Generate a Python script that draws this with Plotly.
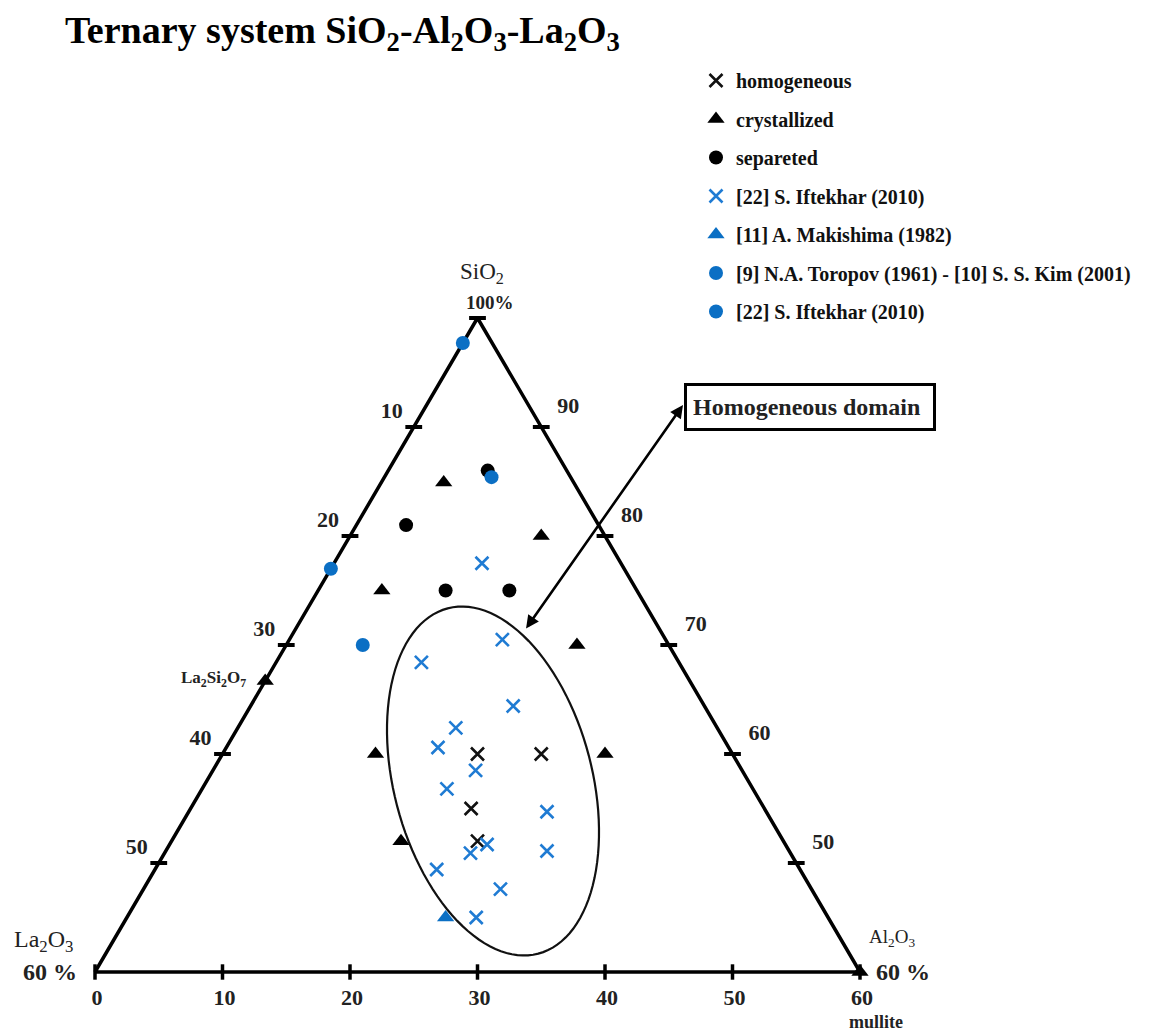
import numpy as np
import plotly.graph_objects as go

# ---------------- data (mol %: SiO2, Al2O3 ; La2O3 = 100 - SiO2 - Al2O3) ----------------
hom_sio2 = [60, 60, 55, 52]
hom_al2o3 = [20, 25, 22, 24]

cry_sio2 = [84.9, 80, 75, 70, 60, 60, 52, 66.7, 40]
cry_al2o3 = [4.9, 15, 5, 22.8, 12, 30, 18, 0, 60]

sep_sio2 = [86, 81, 75, 75]
sep_al2o3 = [7.8, 3.9, 10, 15]

iftx_sio2 = [77.5, 70.5, 68.4, 64.4, 62.4, 60.6, 58.5, 56.8, 54.7, 51.7, 50.9, 51.1, 49.4, 47.6, 45.0]
iftx_al2o3 = [11.6, 16.7, 11.4, 20.6, 17.1, 16.6, 20.6, 19.2, 28.1, 24.9, 24.0, 29.9, 22.1, 28.0, 27.4]

mak_sio2 = [45]
mak_al2o3 = [25]

tor_sio2 = [97.7, 77]
tor_al2o3 = [0, 0]

iftc_sio2 = [85.4, 70]
iftc_al2o3 = [8.4, 6]

left_ticks = [10, 20, 30, 40, 50]          # La2O3 on left edge
right_ticks = [90, 80, 70, 60, 50]         # SiO2 on right edge
bottom_ticks = [0, 10, 20, 30, 40, 50, 60]  # mullite / Al2O3 on base

# ---------------- geometry helpers ----------------
OFF = 8                      # page body margin
W, H = 1156 - OFF, 1032 - OFF
PX = 12.75                   # pixels per unit
APEX_H = 654 / PX            # triangle height in plot units
X0, Y0 = 95, 972             # screen pixel position of the La2O3 corner


def to_xy(sio2, al2o3):
    s = np.asarray(sio2, float)
    a = np.asarray(al2o3, float)
    w = (s - 40) / 60
    return a + 30 * w, APEX_H * w


def pxd(xp, yp):
    return (xp - X0) / PX, (Y0 - yp) / PX


BLUE_X = "#1f7bd3"
BLUE = "#0b6fc4"
SERIF = "Liberation Serif"

fig = go.Figure()

# triangle outline
tx, ty = to_xy([100, 40, 40, 100], [0, 0, 60, 0])
fig.add_trace(go.Scatter(x=tx, y=ty, mode="lines", line=dict(color="black", width=3.5),
                         hoverinfo="skip", showlegend=False))

# tick marks
lx, ly = to_xy([100 - v for v in [0] + left_ticks], [0] * (len(left_ticks) + 1))
fig.add_trace(go.Scatter(x=lx, y=ly, mode="markers", showlegend=False, hoverinfo="skip",
                         marker=dict(symbol="line-ew", size=12, line=dict(color="black", width=4))))
rx, ry = to_xy(right_ticks, [100 - v for v in right_ticks])
fig.add_trace(go.Scatter(x=rx, y=ry, mode="markers", showlegend=False, hoverinfo="skip",
                         marker=dict(symbol="line-ew", size=12, line=dict(color="black", width=4))))
bx, by = to_xy([40] * len(bottom_ticks), bottom_ticks)
fig.add_trace(go.Scatter(x=bx, y=by, mode="markers", showlegend=False, hoverinfo="skip",
                         marker=dict(symbol="line-ns", size=11, line=dict(color="black", width=3.5))))

# tick labels (text placed at a fixed pixel offset from each tick)
num_font = dict(family=SERIF, size=22, color="#222222", weight="bold")


def tick_labels(xs, ys, labels, dx, dy):
    fig.add_trace(go.Scatter(x=np.asarray(xs) + dx / PX, y=np.asarray(ys) + dy / PX, mode="text",
                             text=[str(v) for v in labels], textposition="middle center",
                             textfont=num_font, showlegend=False, hoverinfo="skip"))


tick_labels(lx[1:], ly[1:], left_ticks, -22, 15)
tick_labels(rx, ry, right_ticks, 27, 20)
tick_labels(bx, by, bottom_ticks, 2, -27)


def add_series(name, sio2, al2o3, symbol, color, size, group):
    x, y = to_xy(sio2, al2o3)
    if "x" in symbol:
        marker = dict(symbol=symbol, size=size, color=color, line=dict(color=color, width=2.6))
    else:
        marker = dict(symbol=symbol, size=size, color=color, line=dict(width=0))
    fig.add_trace(go.Scatter(x=x, y=y, mode="markers", name=name, marker=marker,
                             legendgroup=group, legendrank=int(group[1:])))


add_series("separeted", sep_sio2, sep_al2o3, "circle", "black", 14, "g3")
add_series("homogeneous", hom_sio2, hom_al2o3, "x-thin-open", "#111111", 13, "g1")
add_series("crystallized", cry_sio2, cry_al2o3, "triangle-up", "black", 15, "g2")
add_series("[22] S. Iftekhar (2010)", iftx_sio2, iftx_al2o3, "x-thin-open", BLUE_X, 13, "g4")
add_series("[11] A. Makishima (1982)", mak_sio2, mak_al2o3, "triangle-up", BLUE, 15, "g5")
add_series("[9] N.A. Toropov (1961) - [10] S. S. Kim (2001)", tor_sio2, tor_al2o3, "circle", BLUE, 14, "g6")
add_series("[22] S. Iftekhar (2010) ", iftc_sio2, iftc_al2o3, "circle", BLUE, 14, "g7")

annotations = []

ax_, ay_ = to_xy([100], [0])
blx, bly = to_xy([40], [0])
brx, bry = to_xy([40], [60])
lsx, lsy = to_xy([66.7], [0])


def lab(x, y, text, xs, ys, size, bold=True, color="#222222"):
    annotations.append(dict(x=float(x), y=float(y), xref="x", yref="y", text=text, showarrow=False,
                            xshift=xs, yshift=ys,
                            font=dict(family=SERIF, size=size, color=color,
                                      weight="bold" if bold else "normal")))


lab(ax_[0], ay_[0], "SiO<sub>2</sub>", 4, 45, 23, bold=False)
lab(ax_[0], ay_[0], "100%", 12, 16, 19)
lab(blx[0], bly[0], "La<sub>2</sub>O<sub>3</sub>", -52, 31, 24, bold=False)
lab(blx[0], bly[0], "60 %", -45, 0, 24)
lab(brx[0], bry[0], "Al<sub>2</sub>O<sub>3</sub>", 32, 34, 19, bold=False)
lab(brx[0], bry[0], "60 %", 43, 0, 24)
lab(brx[0], bry[0], "mullite", 16, -50, 18)
lab(lsx[0], lsy[0], "La<sub>2</sub>Si<sub>2</sub>O<sub>7</sub>", -52, 2, 17)

# homogeneous domain box
hx, hy = pxd(810, 407)
annotations.append(dict(x=hx, y=hy, xref="x", yref="y", text="Homogeneous domain", showarrow=False,
                        font=dict(family=SERIF, size=24, color="#222222", weight="bold"),
                        bordercolor="black", borderwidth=3, borderpad=6, bgcolor="white",
                        width=234, height=30, align="left"))
# double-headed arrow
t1x, t1y = pxd(683, 405)
t2x, t2y = pxd(525, 630)
annotations.append(dict(x=t1x, y=t1y, ax=t2x, ay=t2y, xref="x", yref="y", axref="x", ayref="y",
                        text="", showarrow=True, arrowhead=2, startarrowhead=2, arrowside="end+start",
                        arrowsize=1, arrowwidth=2.6, arrowcolor="black", standoff=0, startstandoff=0))

# ellipse around the homogeneous domain
ecx, ecy = pxd(493, 781)
ea, eb, eth = 178.5 / PX, 99.1 / PX, np.deg2rad(14.7)
t = np.linspace(0, 2 * np.pi, 121)
ex = ecx + ea * np.cos(t) * (-np.sin(eth)) + eb * np.sin(t) * np.cos(eth)
ey = ecy + ea * np.cos(t) * np.cos(eth) + eb * np.sin(t) * np.sin(eth)
path = "M " + " L ".join(f"{a:.3f},{b:.3f}" for a, b in zip(ex, ey)) + " Z"

fig.update_layout(
    width=W, height=H,
    margin=dict(l=0, r=0, t=0, b=0, autoexpand=False),
    paper_bgcolor="white", plot_bgcolor="white",
    xaxis=dict(visible=False, range=[-(X0 - OFF) / PX, (W - (X0 - OFF)) / PX], fixedrange=True),
    yaxis=dict(visible=False, range=[-(H - (Y0 - OFF)) / PX, (Y0 - OFF) / PX], fixedrange=True),
    title=dict(text="Ternary system SiO<sub>2</sub>-Al<sub>2</sub>O<sub>3</sub>-La<sub>2</sub>O<sub>3</sub>",
               x=(65 - OFF) / W, xanchor="left", y=1 - (30 - OFF) / H, yanchor="middle",
               font=dict(family=SERIF, size=38, color="black", weight="bold")),
    legend=dict(x=(696 - OFF) / W, xanchor="left", y=1 - (61 - OFF) / H, yanchor="top",
                font=dict(family=SERIF, size=20, color="#111111", weight="bold"),
                tracegroupgap=9.5, bgcolor="rgba(0,0,0,0)", itemwidth=30),
    shapes=[dict(type="path", path=path, xref="x", yref="y", line=dict(color="#111111", width=2.2))],
    annotations=annotations,
)

fig.write_html("out.html")
